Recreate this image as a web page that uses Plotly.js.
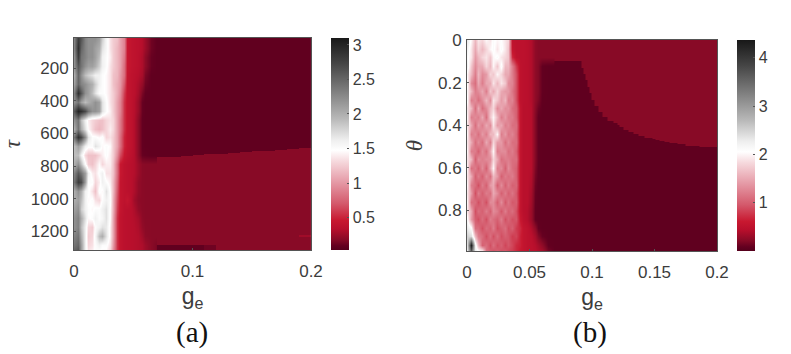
<!DOCTYPE html>
<html><head><meta charset="utf-8">
<script src="https://cdn.plot.ly/plotly-3.0.1.min.js"></script>
<style>html,body{margin:0;padding:0;background:#fff}#c{width:791px;height:354px}</style>
</head><body><div id="c"></div>
<script>
const gridX=[0,.003,.006,.009,.012,.015,.018,.021,.024,.027,.03,.033,.036,.039,.042,.045,.048,.051,.054,.057,.06,.065,.07];
const tauRows=[20,75,130,185,240,295,350,405,460,515,570,625,680,735,790,845,900,955,1010,1065,1120,1175,1230,1285,1315];
const tauLeft=[
[2.3,2.8,2.6,2.3,2.2,2.2,2.2,2.1,1.8,1.55,1.35,1.25,1.2,1.05,.9,.45,.4,.38,.36,.32,.25,.12,.08],
[2.3,2.9,2.5,2.3,2.2,2.2,2.1,2.0,1.7,1.55,1.35,1.25,1.15,1.05,.9,.45,.4,.38,.36,.32,.25,.12,.08],
[2.2,2.8,2.4,2.3,2.2,2.2,2.1,1.9,1.6,1.5,1.4,1.25,1.15,1.05,.85,.45,.4,.38,.35,.3,.2,.1,.08],
[2.2,2.6,2.4,2.2,2.1,2.1,2.0,1.8,1.6,1.5,1.35,1.25,1.15,1.05,.8,.45,.4,.38,.35,.3,.2,.1,.08],
[2.0,2.5,2.2,1.9,1.8,1.7,1.6,1.6,1.5,1.45,1.35,1.2,1.15,1.0,.8,.43,.38,.36,.33,.28,.15,.08,.08],
[2.1,2.5,2.3,2.2,2.1,2.0,1.8,1.6,1.5,1.45,1.35,1.2,1.1,1.0,.7,.42,.38,.35,.3,.22,.12,.08,.08],
[2.3,2.9,2.6,2.2,2.1,1.9,1.7,1.5,1.5,1.45,1.35,1.25,1.1,.95,.6,.42,.38,.35,.28,.15,.09,.08,.08],
[2.2,2.4,2.1,1.9,2.0,2.1,2.2,2.1,1.7,1.5,1.35,1.25,1.05,.9,.55,.42,.38,.33,.24,.1,.08,.08,.08],
[2.6,3.0,2.9,2.7,2.4,2.2,2.2,2.1,1.7,1.5,1.4,1.25,1.05,.9,.55,.42,.38,.33,.24,.1,.08,.08,.08],
[2.2,2.4,1.9,1.6,1.4,1.3,1.25,1.2,1.2,1.3,1.35,1.3,1.05,.85,.55,.42,.38,.32,.2,.09,.08,.08,.08],
[2.0,2.4,2.0,1.7,1.45,1.3,1.2,1.15,1.2,1.3,1.4,1.3,1.05,.85,.55,.42,.38,.32,.2,.09,.08,.08,.08],
[2.4,2.9,2.7,2.2,1.7,1.5,1.5,1.45,1.5,1.3,1.35,1.25,1.05,.8,.5,.42,.38,.32,.2,.09,.08,.08,.08],
[1.9,2.1,1.9,1.6,1.5,1.5,1.7,1.6,1.45,1.5,1.45,1.25,1.05,.8,.5,.42,.38,.32,.2,.09,.08,.08,.08],
[1.9,1.9,1.6,1.3,1.2,1.2,1.2,1.3,1.4,1.5,1.4,1.25,.95,.65,.45,.4,.36,.32,.2,.1,.09,.08,.08],
[2.0,2.2,1.9,1.5,1.25,1.2,1.3,1.45,1.3,1.4,1.4,1.2,.8,.45,.38,.36,.34,.32,.25,.19,.185,.185,.185],
[2.3,2.6,2.4,2.1,1.6,1.4,1.35,1.5,1.6,1.35,1.35,1.2,.8,.45,.38,.36,.34,.32,.25,.19,.185,.185,.185],
[2.4,2.8,2.7,2.1,1.5,1.5,1.3,1.4,1.6,1.5,1.4,1.15,.75,.42,.38,.36,.34,.3,.22,.19,.185,.185,.185],
[2.0,2.2,2.0,1.6,1.5,1.35,1.2,1.5,1.45,1.7,1.45,1.15,.7,.42,.38,.36,.34,.3,.22,.19,.185,.185,.185],
[2.0,2.1,1.9,1.6,1.45,1.5,1.35,1.3,1.5,1.6,1.5,1.1,.65,.42,.38,.42,.34,.26,.2,.19,.185,.185,.185],
[2.1,2.2,1.8,1.6,1.5,1.45,1.5,1.5,1.6,1.7,1.45,1.1,.6,.42,.36,.35,.34,.3,.22,.19,.185,.185,.185],
[2.2,2.3,2.0,1.7,1.45,1.5,1.6,1.5,1.55,1.7,1.45,1.05,.55,.4,.36,.35,.34,.32,.28,.2,.185,.185,.185],
[2.2,2.3,1.9,1.6,1.3,1.25,1.5,1.6,1.7,1.65,1.4,1.05,.55,.4,.36,.35,.34,.33,.3,.22,.19,.185,.185],
[2.3,2.4,2.0,1.6,1.25,1.3,1.55,1.9,2.0,1.7,1.4,1.05,.55,.4,.36,.35,.34,.33,.32,.26,.2,.185,.185],
[2.4,2.5,2.1,1.6,1.3,1.35,1.5,1.6,1.5,1.5,1.35,1.0,.55,.4,.36,.35,.34,.33,.32,.3,.25,.19,.15],
[2.5,2.6,2.1,1.6,1.35,1.4,1.5,1.5,1.45,1.45,1.3,.95,.55,.4,.36,.35,.34,.33,.32,.3,.25,.19,.15]
];
const tauRightX=[.07,.08,.09,.1,.11,.12,.13,.14,.15,.16,.17,.18,.19,.2];
const tauRightY=[15,692,696,701,706,710,715,719,724,728,733,738,742,747,1225,1237,1285,1315];
const tauRight=[
[.08,.08,.08,.08,.08,.08,.08,.08,.08,.08,.08,.08,.08],
[.08,.08,.08,.08,.08,.08,.08,.08,.08,.08,.08,.08,.185],
[.08,.08,.08,.08,.08,.08,.08,.08,.08,.08,.08,.185,.185],
[.08,.08,.08,.08,.08,.08,.08,.08,.08,.08,.185,.185,.185],
[.08,.08,.08,.08,.08,.08,.08,.08,.08,.185,.185,.185,.185],
[.08,.08,.08,.08,.08,.08,.08,.08,.185,.185,.185,.185,.185],
[.08,.08,.08,.08,.08,.08,.08,.185,.185,.185,.185,.185,.185],
[.08,.08,.08,.08,.08,.08,.185,.185,.185,.185,.185,.185,.185],
[.08,.08,.08,.08,.08,.185,.185,.185,.185,.185,.185,.185,.185],
[.08,.08,.08,.08,.185,.185,.185,.185,.185,.185,.185,.185,.185],
[.08,.08,.08,.185,.185,.185,.185,.185,.185,.185,.185,.185,.185],
[.08,.08,.185,.185,.185,.185,.185,.185,.185,.185,.185,.185,.185],
[.08,.185,.185,.185,.185,.185,.185,.185,.185,.185,.185,.185,.185],
[.185,.185,.185,.185,.185,.185,.185,.185,.185,.185,.185,.185,.185],
[.185,.185,.185,.185,.185,.185,.185,.185,.185,.185,.185,.185,.26],
[.185,.185,.185,.185,.185,.185,.185,.185,.185,.185,.185,.185,.185],
[.08,.08,.08,.08,.12,.185,.185,.185,.185,.185,.185,.185,.185]
];
const thetaRows=[0,.04,.08,.12,.16,.2,.24,.28,.32,.36,.4,.44,.48,.52,.56,.6,.64,.68,.72,.76,.8,.84,.88,.92,.96,.99];
const thetaLeft=[
[2.3,2.0,1.6,1.9,1.8,2.0,1.9,2.1,2.0,2.05,1.9,1.8,.5,.48,.48,.48,.45,.4,.25,.22,.22,.22,.22],
[2.2,1.9,1.5,1.8,1.6,1.8,2.0,2.1,1.9,2.1,1.9,1.7,.55,.48,.48,.48,.45,.4,.25,.22,.22,.22,.22],
[2.1,1.9,1.4,1.6,1.8,1.9,1.7,2.0,2.1,1.9,1.8,1.7,.7,.5,.48,.48,.45,.4,.25,.22,.22,.22,.22],
[2.2,1.7,1.3,1.5,1.5,1.8,1.6,2.0,1.7,2.1,1.6,1.6,1.2,.8,.5,.47,.45,.4,.25,.2,.08,.065,.065],
[2.0,1.6,1.2,1.6,1.3,1.4,1.8,1.7,2.0,1.8,1.5,1.5,1.2,.9,.5,.47,.45,.4,.25,.2,.08,.065,.065],
[2.1,1.3,1.1,1.5,1.2,1.5,1.5,1.9,1.6,1.9,1.7,1.3,1.25,.9,.5,.47,.45,.4,.25,.2,.08,.065,.065],
[2.0,1.6,1.2,1.3,1.5,1.2,1.7,1.5,1.8,1.5,1.4,1.4,1.15,.9,.5,.47,.45,.4,.25,.2,.08,.065,.065],
[2.1,1.2,1.3,1.1,1.3,1.6,1.3,1.9,1.7,1.4,1.6,1.2,1.25,.9,.5,.47,.45,.4,.25,.18,.07,.065,.065],
[1.9,1.6,1.1,1.5,1.1,1.3,1.6,1.8,1.3,1.5,1.3,1.35,1.1,1.0,.55,.45,.45,.42,.22,.12,.065,.065,.065],
[2.0,1.2,1.3,1.2,1.5,1.1,1.7,2.0,1.6,1.2,1.4,1.2,1.2,1.0,.55,.45,.45,.42,.2,.08,.065,.065,.065],
[1.9,1.5,1.1,1.4,1.2,1.5,1.3,1.9,1.4,1.5,1.2,1.3,1.1,1.1,.55,.45,.45,.42,.2,.08,.065,.065,.065],
[2.0,1.2,1.3,1.1,1.4,1.2,1.6,1.6,2.0,1.2,1.4,1.15,1.25,1.05,.55,.45,.45,.42,.2,.08,.065,.065,.065],
[1.9,1.5,1.1,1.3,1.1,1.5,1.2,1.8,1.4,1.4,1.1,1.3,1.1,1.1,.55,.45,.45,.42,.2,.08,.065,.065,.065],
[2.0,1.2,1.2,1.0,1.3,1.1,1.5,2.0,1.2,1.3,1.3,1.1,1.2,1.0,.55,.45,.45,.42,.2,.08,.065,.065,.065],
[1.9,1.6,1.0,1.3,1.2,1.3,1.3,1.8,1.5,1.1,1.2,1.2,1.1,1.1,.55,.45,.45,.42,.2,.08,.065,.065,.065],
[2.0,1.1,1.2,1.0,1.3,1.0,1.5,2.0,1.2,1.3,1.0,1.3,1.1,1.0,.55,.45,.45,.42,.18,.07,.065,.065,.065],
[1.9,1.5,1.0,1.2,1.0,1.3,1.1,1.6,1.4,1.0,1.2,1.1,1.2,1.0,.55,.45,.45,.4,.15,.07,.065,.065,.065],
[2.0,1.2,1.1,.9,1.2,1.0,1.4,1.5,1.0,1.3,1.0,1.2,1.0,1.05,.55,.45,.45,.38,.12,.065,.065,.065,.065],
[1.9,1.4,.9,1.2,1.0,1.2,1.1,1.5,1.3,1.0,1.2,1.0,1.15,.95,.55,.45,.45,.35,.1,.065,.065,.065,.065],
[2.0,1.1,1.1,.9,1.1,.9,1.3,1.3,1.0,1.3,.95,1.15,.95,1.0,.55,.45,.45,.33,.09,.065,.065,.065,.065],
[1.9,1.5,.9,1.1,1.0,1.2,1.0,1.3,1.2,.95,1.2,1.0,1.1,.9,.55,.45,.42,.3,.08,.065,.065,.065,.065],
[2.1,1.4,1.0,.9,1.1,.9,1.2,1.1,1.0,1.2,.9,1.05,.9,.95,.6,.48,.42,.3,.08,.065,.065,.065,.065],
[2.3,2.1,1.1,1.1,.9,1.1,1.0,1.2,.9,1.0,1.1,.9,1.0,.8,.7,.55,.5,.4,.25,.09,.065,.065,.065],
[2.5,2.4,1.6,1.2,1.1,.9,1.1,.9,1.1,.9,1.0,.95,.8,.85,.65,.55,.5,.46,.35,.2,.1,.065,.065],
[2.4,4.3,2.2,1.6,1.0,1.1,.9,1.1,.9,1.0,.85,.95,.85,.7,.65,.55,.5,.48,.42,.35,.25,.08,.065],
[2.3,3.6,2.3,2.1,2.0,1.1,1.0,.9,1.0,.9,.95,.85,.8,.7,.6,.55,.5,.48,.45,.4,.35,.15,.065]
];
const thetaEdgeX=[.0917,.093,.0945,.096,.098,.0995,.102,.105,.108,.112,.117,.12,.122,.125,.129,.133,.137,.142,.148,.151,.154,.158,.162,.168,.175,.186,.2];
const thetaEdgeY=[.1,.13,.16,.19,.22,.25,.28,.31,.34,.36,.38,.39,.4,.41,.42,.43,.44,.45,.46,.465,.47,.475,.48,.485,.49,.495,.5];
const thetaLow=.065, thetaMid=.22;
const thetaRightX=[.07].concat(thetaEdgeX);
const thetaRightY=[0].concat(thetaEdgeY,[.99]);
const thetaRight=thetaRightY.slice(1).map((_,r)=>thetaEdgeX.map((_,c)=>c<r?thetaLow:thetaMid));
const tauTicks=[200,400,600,800,1000,1200];
const thetaTicks=[0,.2,.4,.6,.8];
const thetaTickText=['0','0.2','0.4','0.6','0.8'];
const geTicksA=[0,.1,.2];
const geTextA=['0','0.1','0.2'];
const geTicksB=[0,.05,.1,.15,.2];
const geTextB=['0','0.05','0.1','0.15','0.2'];
const cbTicksA=[.5,1,1.5,2,2.5,3];
const cbTextA=['0.5','1','1.5','2','2.5','3'];
const cbTicksB=[1,2,3,4];
const scale=[[0,'#55001c'],[.02,'#640020'],[.05,'#880a26'],[.1,'#b80f2c'],[.14,'#c81830'],[.22,'#d45a6c'],[.32,'#e59aa6'],[.42,'#f6dade'],[.47,'#ffffff'],[.52,'#eeeeee'],[.62,'#b8b8b8'],[.75,'#7e7e7e'],[.88,'#454545'],[1,'#181818']];

const W=791,H=354,ink='#3c3c3c';
const tf={family:'Liberation Sans, Arial, sans-serif',size:17,color:ink};
const cf={family:'Liberation Sans, Arial, sans-serif',size:16,color:ink};
const px=(a,b)=>[a/W,b/W], py=(t,b)=>[(H-b)/H,(H-t)/H];
function axis(dom,extra){return Object.assign({domain:dom,showgrid:false,zeroline:false,showline:true,mirror:true,linecolor:'#555',linewidth:1,ticks:'inside',ticklen:2,tickcolor:'#555',tickfont:tf,tickmode:'array'},extra);}
function cb(x,top,bot,vals,text){return {x:x/W,xanchor:'left',xpad:0,ypad:0,y:(H-top)/H,yanchor:'top',len:(bot-top)/H,lenmode:'fraction',thickness:18,thicknessmode:'pixels',outlinewidth:0,ticks:'inside',ticklen:2,tickcolor:'#555',tickfont:cf,tickmode:'array',tickvals:vals,ticktext:text,ticklabelpad:6};}
const hm=(x,y,z,ca,smooth)=>({type:'heatmap',x,y,z,coloraxis:ca,zsmooth:smooth,xaxis:ca==='coloraxis'?'x':'x2',yaxis:ca==='coloraxis'?'y':'y2',hoverinfo:'skip'});
const traces=[
 hm(gridX,tauRows,tauLeft,'coloraxis','best'),
 hm(tauRightX,tauRightY,tauRight,'coloraxis',false),
 hm(gridX,thetaRows,thetaLeft,'coloraxis2','best'),
 hm(thetaRightX,thetaRightY,thetaRight,'coloraxis2',false)
];
const geT=(s)=>({text:'g<sub>e</sub>',font:{family:'Liberation Sans, Arial, sans-serif',size:23,color:ink},standoff:s});
const layout={width:W,height:H,margin:{l:0,r:0,t:0,b:0},paper_bgcolor:'#fff',plot_bgcolor:'#fff',showlegend:false,
 coloraxis:{cmin:.03,cmax:3.1,colorscale:scale,colorbar:cb(331,38,250,cbTicksA,cbTextA)},
 coloraxis2:{cmin:0,cmax:4.37,colorscale:scale,colorbar:cb(737,40,251,cbTicksB,cbTicksB.map(String))},
 xaxis:axis(px(74,311),{anchor:'y',range:[0,.2],tickvals:geTicksA,ticktext:geTextA,ticklabelstandoff:6,title:geT(7)}),
 yaxis:axis(py(38,250),{anchor:'x',range:[1315,15],tickvals:tauTicks,ticktext:tauTicks.map(String),ticklabelstandoff:1,
   title:{text:'<i>τ</i>',font:{family:'Liberation Serif, serif',size:23,color:ink},standoff:8}}),
 xaxis2:axis(px(467,717),{anchor:'y2',range:[0,.2],tickvals:geTicksB,ticktext:geTextB,ticklabelstandoff:6,title:geT(7)}),
 yaxis2:axis(py(40,251),{anchor:'x2',range:[.99,0],tickvals:thetaTicks,ticktext:thetaTickText,ticklabelstandoff:1,
   title:{text:'<i>θ</i>',font:{family:'Liberation Serif, serif',size:23,color:ink},standoff:8}}),
 annotations:[
  {xref:'paper',yref:'paper',x:192/W,y:(H-332)/H,xanchor:'center',yanchor:'middle',showarrow:false,text:'(a)',font:{family:'Liberation Serif, Times New Roman, serif',size:29,color:'#111'}},
  {xref:'paper',yref:'paper',x:590/W,y:(H-332)/H,xanchor:'center',yanchor:'middle',showarrow:false,text:'(b)',font:{family:'Liberation Serif, Times New Roman, serif',size:29,color:'#111'}}
 ]};
Plotly.newPlot('c',traces,layout,{displayModeBar:false,staticPlot:true});
</script></body></html>
